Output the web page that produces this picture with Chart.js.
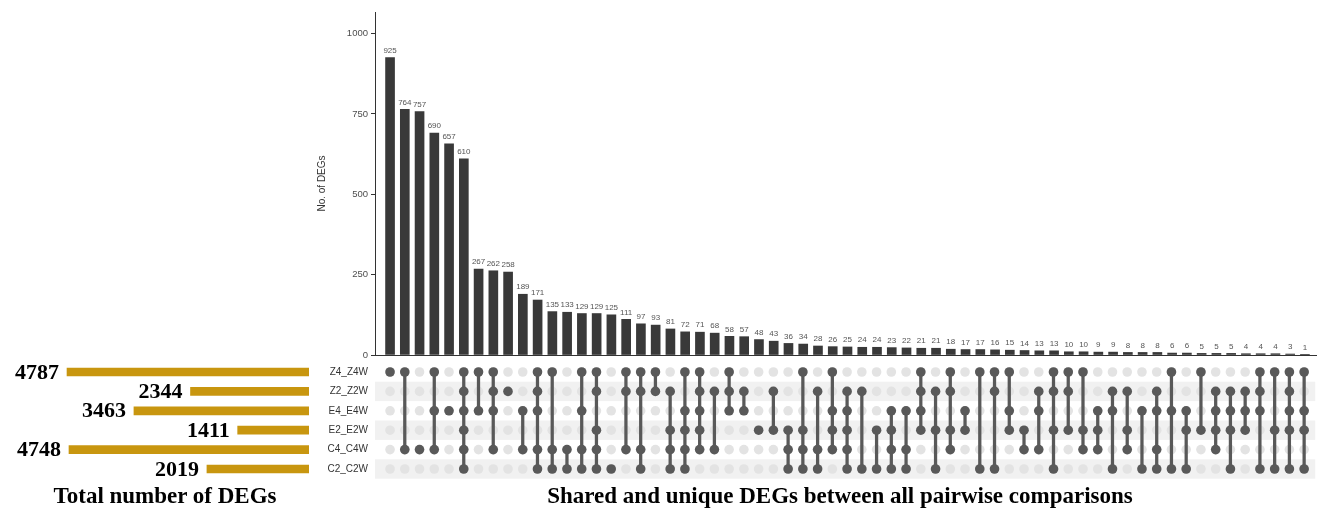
<!DOCTYPE html>
<html>
<head>
<meta charset="utf-8">
<script src="https://cdn.jsdelivr.net/npm/chart.js@4.4.0/dist/chart.umd.min.js"></script>
<style>
  body { margin: 0; background: #fff; width: 1320px; height: 514px; position: relative; overflow: hidden; }
  canvas { position: absolute; }
  .title {
    position: absolute; white-space: nowrap; transform: translateX(-50%);
    font-family: "Liberation Serif", "Times New Roman", serif; font-weight: bold;
    font-size: 23px; line-height: 23px; color: #000;
  }
</style>
</head>
<body>
<canvas id="bars" width="1320" height="362" style="left:0;top:0"></canvas>
<canvas id="matrix" width="1320" height="130" style="left:0;top:355px"></canvas>
<canvas id="totals" width="320" height="130" style="left:0;top:355px"></canvas>
<div class="title" style="left:165px;top:484px">Total number of DEGs</div>
<div class="title" style="left:840px;top:484px">Shared and unique DEGs between all pairwise comparisons</div>

<script>
// sets, top to bottom in the matrix
var sets = ['Z4_Z4W', 'Z2_Z2W', 'E4_E4W', 'E2_E2W', 'C4_C4W', 'C2_C2W'];
var setTotals = [4787, 2344, 3463, 1411, 4748, 2019];

// intersection sizes, largest first
var counts = [925, 764, 757, 690, 657, 610, 267, 262, 258, 189, 171, 135, 133, 129, 129, 125,
  111, 97, 93, 81, 72, 71, 68, 58, 57, 48, 43, 36, 34, 28, 26, 25, 24, 24, 23, 22, 21, 21, 18,
  17, 17, 16, 15, 14, 13, 13, 10, 10, 9, 9, 8, 8, 8, 6, 6, 5, 5, 5, 4, 4, 4, 3, 1];

// membership of each intersection, one char per set (same order as sets)
var combos = ['100000', '100010', '000010', '101010', '001000', '111111', '101000', '111010',
  '010000', '001010', '111011', '100011', '000011', '101011', '110111', '000001', '110010',
  '110011', '110000', '010111', '101111', '111110', '010010', '111000', '011000', '000100',
  '010100', '000111', '100111', '010011', '101110', '011111', '010001', '000101', '001111',
  '001011', '111100', '010101', '110110', '001100', '100001', '110001', '101100', '000110',
  '011010', '110101', '110100', '100110', '001110', '011001', '010110', '001001', '011011',
  '101001', '001101', '100100', '011110', '011101', '011100', '111001', '100101', '111101',
  '101101'];

var yTicks = [0, 250, 500, 750, 1000];

var DARK = '#595959';
var sans = '"Liberation Sans", Arial, sans-serif';
var xRange = { min: -1.02, max: 62.75 };

function noPad(s) { s.paddingTop = 0; s.paddingBottom = 0; }

var valueLabels = {
  id: 'valueLabels',
  afterDatasetsDraw: function (chart) {
    var ctx = chart.ctx;
    var meta = chart.getDatasetMeta(0);
    ctx.save();
    ctx.font = '8px ' + sans;
    ctx.fillStyle = '#555';
    ctx.textAlign = 'center';
    ctx.textBaseline = 'bottom';
    meta.data.forEach(function (bar, i) {
      ctx.fillText(counts[i], bar.x, bar.y - 3);
    });
    ctx.restore();
  }
};

new Chart(document.getElementById('bars'), {
  type: 'bar',
  data: {
    datasets: [{
      data: counts.map(function (v, i) { return { x: i, y: v }; }),
      backgroundColor: '#393939',
      barThickness: 9
    }]
  },
  options: {
    responsive: false,
    animation: false,
    layout: { padding: { left: 312, right: 4, top: 12, bottom: 7 } },
    plugins: { legend: { display: false }, tooltip: { enabled: false } },
    scales: {
      x: {
        type: 'linear', offset: false, min: xRange.min, max: xRange.max,
        grid: { display: false },
        border: { display: true, color: '#333', width: 1 },
        ticks: { display: false },
        afterFit: function (s) { s.height = 0; }
      },
      y: {
        min: 0, max: 1067,
        grid: { drawOnChartArea: false, tickLength: 4, color: '#333' },
        border: { display: true, color: '#333', width: 1 },
        ticks: {
          font: { size: 9.5, family: sans }, color: '#4d4d4d', padding: 3,
          callback: function (v) { return String(v); }
        },
        title: { display: true, text: 'No. of DEGs', font: { size: 10, family: sans }, color: '#333' },
        afterBuildTicks: function (s) { s.ticks = yTicks.map(function (v) { return { value: v }; }); },
        afterFit: function (s) { s.width = 63; noPad(s); }
      }
    }
  },
  plugins: [valueLabels]
});

// matrix
var rowStripes = {
  id: 'rowStripes',
  beforeDatasetsDraw: function (chart) {
    var ctx = chart.ctx, area = chart.chartArea, y = chart.scales.y;
    ctx.save();
    ctx.fillStyle = '#f1f1f1';
    sets.forEach(function (s, i) {
      if (i % 2 === 1) {
        var a = y.getPixelForValue(i - 0.5), b = y.getPixelForValue(i + 0.5);
        ctx.fillRect(area.left, Math.min(a, b), area.right - area.left, Math.abs(b - a));
      }
    });
    ctx.restore();
  }
};

var allDots = [], onDots = [], links = [];
combos.forEach(function (c, i) {
  var rows = [];
  for (var r = 0; r < sets.length; r++) {
    allDots.push({ x: i, y: r });
    if (c[r] === '1') { onDots.push({ x: i, y: r }); rows.push(r); }
  }
  if (rows.length > 1) links.push({ x: i, y: [rows[0], rows[rows.length - 1]] });
});

new Chart(document.getElementById('matrix'), {
  type: 'bar',
  data: {
    datasets: [
      { type: 'scatter', data: allDots, pointRadius: 4.8, pointBackgroundColor: '#e3e3e3', pointBorderWidth: 0, order: 3 },
      { type: 'bar', data: links, backgroundColor: DARK, barThickness: 2.6, order: 2 },
      { type: 'scatter', data: onDots, pointRadius: 4.8, pointBackgroundColor: DARK, pointBorderWidth: 0, order: 1 }
    ]
  },
  options: {
    responsive: false,
    animation: false,
    layout: { padding: { left: 0, right: 4, top: 7.3, bottom: 6.3 } },
    plugins: { legend: { display: false }, tooltip: { enabled: false } },
    scales: {
      x: { type: 'linear', offset: false, min: xRange.min, max: xRange.max, display: false },
      y: {
        type: 'linear', reverse: true, min: -0.5, max: 5.5, offset: false,
        grid: { display: false, drawTicks: false },
        border: { display: false },
        ticks: {
          font: { size: 10, family: sans }, color: '#333', padding: 7,
          callback: function (v) { return sets[v]; }
        },
        afterBuildTicks: function (s) { s.ticks = sets.map(function (n, i) { return { value: i }; }); },
        afterFit: function (s) { s.width = 375; noPad(s); }
      }
    }
  },
  plugins: [rowStripes]
});

// set sizes on the left
var totalLabels = {
  id: 'totalLabels',
  afterDatasetsDraw: function (chart) {
    var ctx = chart.ctx;
    var meta = chart.getDatasetMeta(0);
    ctx.save();
    ctx.font = 'bold 22px "Liberation Serif", "Times New Roman", serif';
    ctx.fillStyle = '#000';
    ctx.textAlign = 'right';
    ctx.textBaseline = 'middle';
    meta.data.forEach(function (bar, i) {
      ctx.fillText(setTotals[i], bar.x - 8, bar.y + 1);
    });
    ctx.restore();
  }
};

new Chart(document.getElementById('totals'), {
  type: 'bar',
  data: {
    datasets: [{
      data: setTotals.map(function (v, i) { return { x: v, y: i }; }),
      backgroundColor: '#c8960f',
      barThickness: 8
    }]
  },
  options: {
    indexAxis: 'y',
    responsive: false,
    animation: false,
    layout: { padding: { left: 10, right: 11, top: 7.3, bottom: 6.3 } },
    plugins: { legend: { display: false }, tooltip: { enabled: false } },
    scales: {
      x: { type: 'linear', reverse: true, min: 0, max: 5915, display: false },
      y: { type: 'linear', reverse: true, min: -0.5, max: 5.5, offset: false, display: false }
    }
  },
  plugins: [totalLabels]
});
</script>
</body>
</html>
